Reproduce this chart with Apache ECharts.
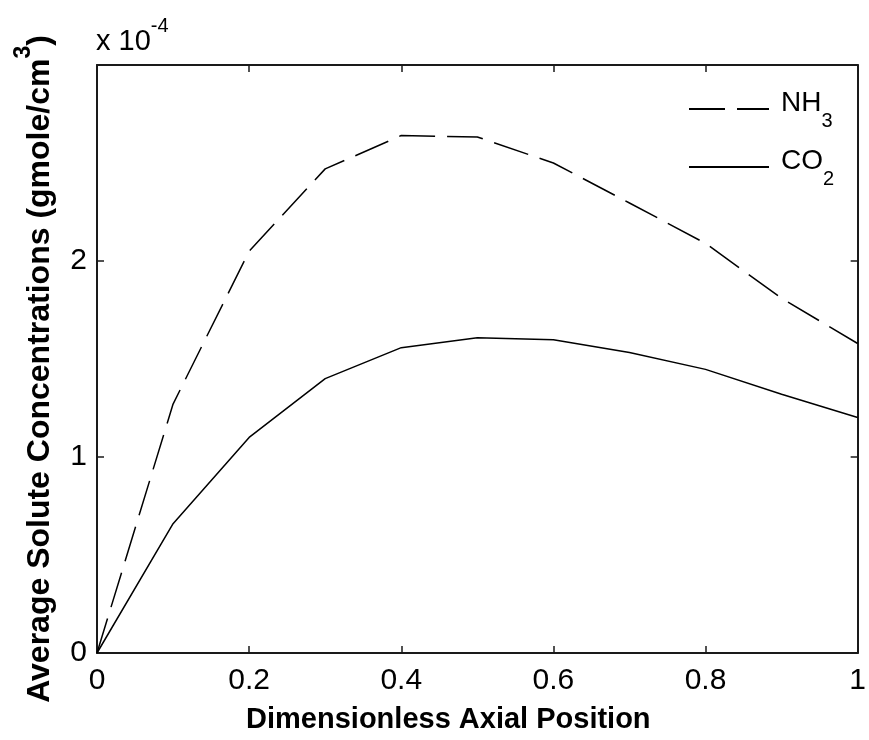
<!DOCTYPE html>
<html>
<head>
<meta charset="utf-8">
<script src="https://cdn.jsdelivr.net/npm/echarts@6/dist/echarts.min.js"></script>
<style>
  html, body { margin: 0; padding: 0; background: #fff; overflow: hidden; }
  #chart { width: 869px; height: 740px; }
</style>
</head>
<body>
<div id="chart"></div>
<script>
// Axial positions (dimensionless)
const positions = [0, 0.1, 0.2, 0.3, 0.4, 0.5, 0.6, 0.7, 0.8, 0.9, 1.0];
// Average solute concentrations, in units of 1e-4 gmole/cm^3
const nh3Values = [0, 1.27, 2.05, 2.47, 2.64, 2.633, 2.50, 2.296, 2.09, 1.81, 1.579];
const co2Values = [0, 0.66, 1.10, 1.40, 1.558, 1.608, 1.598, 1.533, 1.447, 1.32, 1.202];
// Axis ranges and tick steps
const xTicks = { min: 0, max: 1, step: 0.2 };
const yTicks = { min: 0, max: 3, step: 1 };
// Legend entries: series name and label with subscript markup
const legendNames = ['NH3', 'CO2'];
const legendLabels = { NH3: '{a|NH}{s|3}', CO2: '{a|CO}{s|2}' };

const FONT = '"Liberation Sans", Arial, Helvetica, sans-serif';
const INK = '#000';
const FRAME = '#1a1a1a';

const pairs = (xs, ys) => xs.map((x, i) => [x, ys[i]]);

const frameAxisLine = { show: true, onZero: false, lineStyle: { color: FRAME, width: 2 } };
const frameTick = { show: true, inside: true, length: 7, lineStyle: { color: FRAME, width: 1.5 } };

// One legend block per series so each row sits at its own height
const legendRow = (name, top) => ({
  orient: 'vertical', left: 688, top: top, padding: 0,
  itemWidth: 80, itemHeight: 14,
  itemStyle: { color: 'transparent', borderWidth: 0 },
  data: [name],
  formatter: n => legendLabels[n],
  textStyle: {
    fontFamily: FONT, color: INK, padding: [2, 0, 0, 7],
    rich: {
      a: { fontSize: 28, lineHeight: 42, verticalAlign: 'top', fontFamily: FONT, color: INK },
      s: { fontSize: 20, lineHeight: 20, verticalAlign: 'bottom', fontFamily: FONT, color: INK }
    }
  }
});

const chart = echarts.init(document.getElementById('chart'), null, { renderer: 'canvas' });

chart.setOption({
  backgroundColor: '#fff',
  animation: false,
  textStyle: { fontFamily: FONT, color: INK },
  grid: { left: 97, right: 2, top: 65, bottom: 79, containLabel: false },
  xAxis: [
    {
      type: 'value', min: xTicks.min, max: xTicks.max, interval: xTicks.step,
      position: 'bottom',
      axisLine: frameAxisLine, axisTick: frameTick, splitLine: { show: false },
      axisLabel: {
        margin: 13, fontSize: 30, color: INK, fontFamily: FONT,
        formatter: v => String(Math.round(v * 10) / 10)
      },
      name: 'Dimensionless Axial Position',
      nameLocation: 'middle', nameGap: 52,
      nameTextStyle: {
        fontSize: 29, fontWeight: 'bold', color: INK, fontFamily: FONT, lineHeight: 30,
        padding: [0, 58, 0, 0]
      }
    },
    {
      type: 'value', min: xTicks.min, max: xTicks.max, interval: xTicks.step,
      position: 'top',
      axisLine: frameAxisLine, axisTick: frameTick, axisLabel: { show: false }, splitLine: { show: false }
    }
  ],
  yAxis: [
    {
      type: 'value', min: yTicks.min, max: yTicks.max, interval: yTicks.step,
      position: 'left',
      axisLine: frameAxisLine, axisTick: frameTick, splitLine: { show: false },
      axisLabel: { margin: 10, fontSize: 30, color: INK, fontFamily: FONT, showMaxLabel: false },
      name: '{t|Average Solute Concentrations (gmole/cm}{u|3}{t|)}',
      nameLocation: 'middle', nameRotate: 90, nameGap: 41,
      nameTextStyle: {
        fontFamily: FONT, color: INK, padding: [0, 20, 0, 0],
        rich: {
          t: { fontSize: 32, fontWeight: 'bold', lineHeight: 44, verticalAlign: 'bottom', fontFamily: FONT, color: INK },
          u: { fontSize: 23, fontWeight: 'bold', lineHeight: 24, verticalAlign: 'top', fontFamily: FONT, color: INK }
        }
      }
    },
    {
      type: 'value', min: yTicks.min, max: yTicks.max, interval: yTicks.step,
      position: 'right',
      axisLine: frameAxisLine, axisTick: frameTick, axisLabel: { show: false }, splitLine: { show: false }
    }
  ],
  legend: [legendRow(legendNames[0], 89), legendRow(legendNames[1], 147)],
  graphic: [
    {
      type: 'text', left: 96, top: 16,
      style: {
        text: '{a|x 10}{s|-4}',
        fill: INK,
        rich: {
          a: { fontSize: 29, lineHeight: 40, verticalAlign: 'bottom', fontFamily: FONT, fill: INK },
          s: { fontSize: 20, lineHeight: 20, verticalAlign: 'top', fontFamily: FONT, fill: INK }
        }
      }
    }
  ],
  series: [
    {
      name: 'NH3', type: 'line', xAxisIndex: 0, yAxisIndex: 0,
      data: pairs(positions, nh3Values),
      symbol: 'none', showSymbol: false,
      lineStyle: { color: '#000', width: 1.5, type: [36, 12] },
      itemStyle: { color: '#000' }
    },
    {
      name: 'CO2', type: 'line', xAxisIndex: 0, yAxisIndex: 0,
      data: pairs(positions, co2Values),
      symbol: 'none', showSymbol: false,
      lineStyle: { color: '#000', width: 1.5, type: 'solid' },
      itemStyle: { color: '#000' }
    }
  ]
});
</script>
</body>
</html>
